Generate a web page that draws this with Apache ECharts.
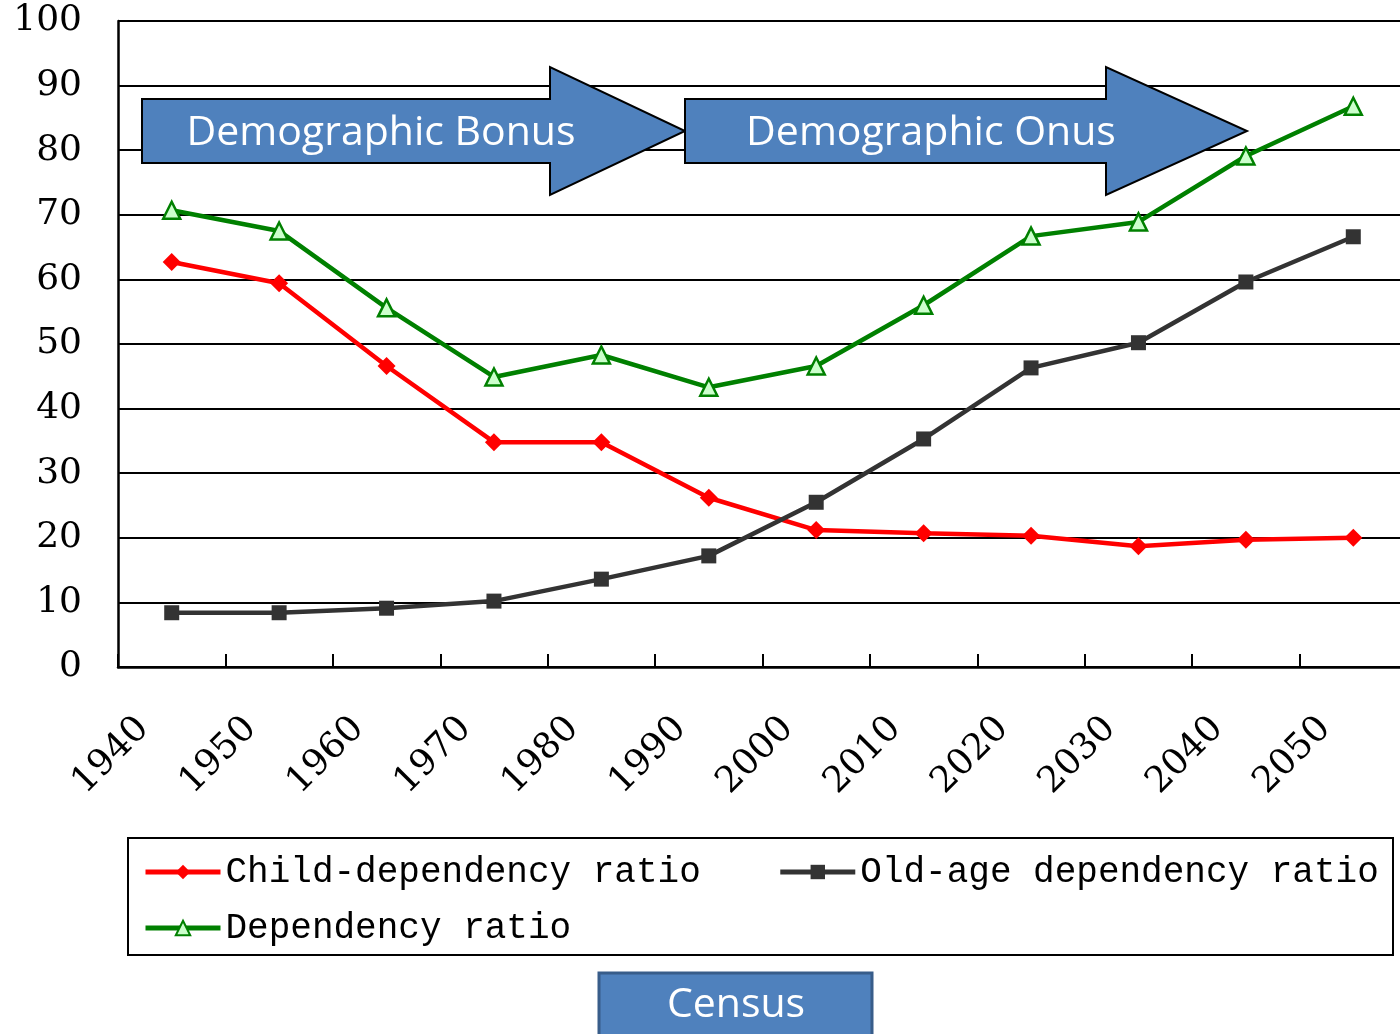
<!DOCTYPE html>
<html>
<head>
<meta charset="utf-8">
<script src="https://cdn.jsdelivr.net/npm/echarts@6/dist/echarts.min.js"></script>
<style>
html,body{margin:0;padding:0;background:#fff;}
#chart{width:1400px;height:1034px;}
</style>
</head>
<body>
<div id="chart"></div>
<script>
const years = ['1940','1950','1960','1970','1980','1990','2000','2010','2020','2030','2040','2050'];
const childRatio = [62.7, 59.4, 46.6, 34.8, 34.8, 26.2, 21.2, 20.7, 20.3, 18.7, 19.7, 20.0];
const oldAgeRatio = [8.4, 8.4, 9.1, 10.2, 13.6, 17.2, 25.5, 35.3, 46.3, 50.2, 59.6, 66.6];
const dependencyRatio = [70.7, 67.5, 55.6, 44.9, 48.3, 43.3, 46.6, 56.0, 66.7, 68.9, 79.1, 86.8];
const seriesNames = ['Child-dependency ratio', 'Old-age dependency ratio', 'Dependency ratio'];
const phaseLabels = ['Demographic Bonus', 'Demographic Onus'];
const footLabel = 'Census';

const chart = echarts.init(document.getElementById('chart'), null, {renderer: 'canvas'});

const legendText = {fontFamily: 'Liberation Mono', fontSize: 36, color: '#000'};
const arrowFill = '#4f81bd';

function arrowPoints(x0, x1, x2) {
  return [[x0, 99], [x1, 99], [x1, 67], [x2, 131], [x1, 195], [x1, 163], [x0, 163]];
}

chart.setOption({
  animation: false,
  backgroundColor: '#fff',
  grid: {left: 118, top: 21, width: 1289, height: 646, containLabel: false, outerBoundsMode: 'none'},
  xAxis: {
    type: 'category',
    data: years,
    boundaryGap: true,
    axisLine: {show: true, lineStyle: {color: '#000', width: 2.5}},
    axisTick: {show: true, inside: true, length: 13, lineStyle: {color: '#000', width: 2}},
    axisLabel: {
      interval: 0, rotate: 45, margin: 28, padding: [0, 40, 0, 0],
      fontFamily: 'DejaVu Serif', fontSize: 36, color: '#000'
    },
    splitLine: {show: false}
  },
  yAxis: {
    type: 'value', min: 0, max: 100, interval: 10,
    axisLine: {show: true, lineStyle: {color: '#000', width: 2.5}},
    axisTick: {show: false},
    axisLabel: {margin: 36, fontFamily: 'DejaVu Serif', fontSize: 36, color: '#000'},
    splitLine: {show: true, lineStyle: {color: '#000', width: 2}}
  },
  legend: [
    {
      data: [seriesNames[0], seriesNames[1]],
      left: 143, top: 854, padding: 0, itemGap: 77,
      itemWidth: 75, itemHeight: 18,
      lineStyle: {width: 5},
      textStyle: legendText
    },
    {
      data: [seriesNames[2]],
      left: 143, top: 910, padding: 0,
      itemWidth: 75, itemHeight: 18,
      lineStyle: {width: 5},
      textStyle: legendText
    }
  ],
  graphic: [
    {type: 'rect', z: 1, shape: {x: 128, y: 838, width: 1265, height: 117},
     style: {fill: 'none', stroke: '#000', lineWidth: 2}},
    {type: 'polygon', z: 1, shape: {points: arrowPoints(142, 550, 685)},
     style: {fill: arrowFill, stroke: '#000', lineWidth: 2}},
    {type: 'polygon', z: 1, shape: {points: arrowPoints(685, 1106, 1247)},
     style: {fill: arrowFill, stroke: '#000', lineWidth: 2}},
    {type: 'text', z: 1, x: 381, y: 133,
     style: {text: phaseLabels[0], fill: '#fff', font: '41px "Open Sans"', textAlign: 'center', textVerticalAlign: 'middle'}},
    {type: 'text', z: 1, x: 931, y: 133,
     style: {text: phaseLabels[1], fill: '#fff', font: '41px "Open Sans"', textAlign: 'center', textVerticalAlign: 'middle'}},
    {type: 'rect', z: 1, shape: {x: 599, y: 973, width: 273, height: 70},
     style: {fill: arrowFill, stroke: '#385d8a', lineWidth: 3}},
    {type: 'text', z: 1, x: 736, y: 1005,
     style: {text: footLabel, fill: '#fff', font: '41px "Open Sans"', textAlign: 'center', textVerticalAlign: 'middle'}}
  ],
  series: [
    {
      name: seriesNames[0], type: 'line', data: childRatio,
      symbol: 'diamond', symbolSize: 18,
      lineStyle: {color: '#ff0000', width: 4.5},
      itemStyle: {color: '#ff0000'}
    },
    {
      name: seriesNames[1], type: 'line', data: oldAgeRatio,
      symbol: 'rect', symbolSize: 15,
      lineStyle: {color: '#333333', width: 4.5},
      itemStyle: {color: '#333333'}
    },
    {
      name: seriesNames[2], type: 'line', data: dependencyRatio,
      symbol: 'triangle', symbolSize: 17,
      lineStyle: {color: '#008000', width: 4.5},
      itemStyle: {color: '#ccffcc', borderColor: '#008000', borderWidth: 2.5}
    }
  ]
});
</script>
</body>
</html>
